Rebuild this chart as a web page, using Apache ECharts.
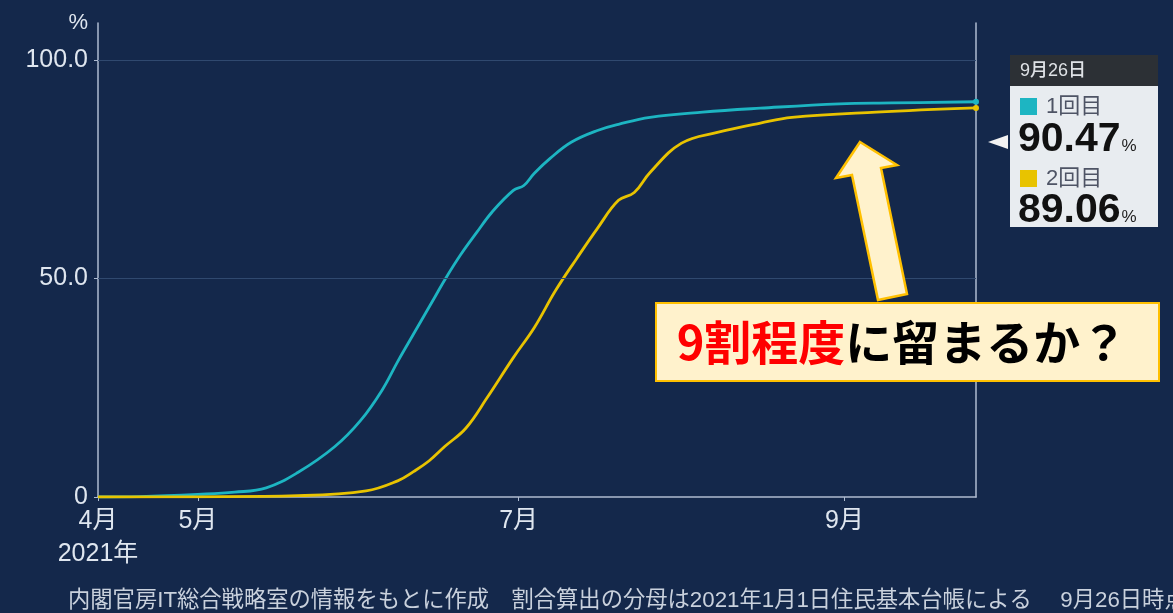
<!DOCTYPE html>
<html>
<head>
<meta charset="utf-8">
<script src="https://cdn.jsdelivr.net/npm/echarts@6.0.0/dist/echarts.min.js"></script>
<style>
html,body{margin:0;padding:0;background:#14284b;}
#chart{width:1173px;height:613px;}
</style>
</head>
<body>
<div id="chart"></div>
<script>
// ---- data ----
const seriesNames = ['1回目', '2回目'];
const dose1Dates = ['2021-04-12','2021-04-20','2021-05-01','2021-05-08','2021-05-14','2021-05-20','2021-05-27','2021-06-01','2021-06-05','2021-06-08','2021-06-10','2021-06-15','2021-06-17','2021-06-20','2021-06-23','2021-06-26','2021-06-30','2021-07-02','2021-07-04','2021-07-07','2021-07-11','2021-07-16','2021-07-20','2021-07-26','2021-08-05','2021-08-16','2021-08-31','2021-09-10','2021-09-26'];
const dose1Values = [0,0.1,0.6,1.1,2.1,5.6,11.5,17.6,24.4,31.0,35.2,45.6,49.8,55.5,60.5,65.3,70.2,71.3,74.1,77.5,81.2,83.9,85.3,86.9,88.1,89.0,90.0,90.2,90.47];
const dose2Dates = ['2021-04-12','2021-05-01','2021-05-20','2021-06-02','2021-06-08','2021-06-11','2021-06-14','2021-06-17','2021-06-21','2021-06-25','2021-06-30','2021-07-04','2021-07-08','2021-07-12','2021-07-16','2021-07-20','2021-07-23','2021-07-26','2021-08-01','2021-08-08','2021-08-16','2021-08-22','2021-09-07','2021-09-26'];
const dose2Values = [0,0.05,0.3,1.4,3.7,5.8,8.3,11.6,15.8,22.7,31.9,38.8,47.2,54.5,61.5,67.9,69.7,74.3,81.0,83.5,85.6,86.9,88.1,89.06];
const xTickDates = ['2021-04-12','2021-05-01','2021-07-01','2021-09-01'];
const xTickLabels = ['4月\n2021年','5月','7月','9月'];
const yTicks = [0, 50, 100];
const latestLabel = '9月26日';
const annotationRed = '9割程度';
const annotationBlack = 'に留まるか？';
const footerText = '内閣官房IT総合戦略室の情報をもとに作成　割合算出の分母は2021年1月1日住民基本台帳による　 9月26日時点';

const colors = ['#1db5c2', '#e8c300'];
const FONT = '"Liberation Sans", "Noto Sans CJK JP", sans-serif';
const JFONT = '"Noto Sans CJK JP", sans-serif';

const START = xTickDates[0];
function dayOf(s){
  const p = s.split('-').map(Number), q = START.split('-').map(Number);
  return Math.round((Date.UTC(p[0], p[1]-1, p[2]) - Date.UTC(q[0], q[1]-1, q[2])) / 86400000);
}
function pairs(d, v){ return d.map((x,i)=>[dayOf(x), v[i]]); }
const xTickDays = xTickDates.map(dayOf);

const chart = echarts.init(document.getElementById('chart'));
const lastIdx1 = dose1Values.length - 1, lastIdx2 = dose2Values.length - 1;

function lineSeries(name, dates, values, color){
  const data = pairs(dates, values);
  return {
    name, type: 'line', data, smooth: 0.4, symbol: 'none', z: 3,
    lineStyle: { color, width: 2.8 },
    itemStyle: { color },
    markPoint: {
      symbol: 'circle', symbolSize: 6, silent: true,
      itemStyle: { color },
      label: { show: false },
      data: [{ coord: data[data.length-1] }]
    }
  };
}

chart.setOption({
  backgroundColor: '#14284b',
  animation: false,
  grid: { left: 98, right: 197, top: 23, bottom: 116, containLabel: false },
  xAxis: {
    type: 'value',
    min: 0,
    max: dayOf(dose1Dates[lastIdx1]),
    axisLine: { show: true, onZero: false, lineStyle: { color: '#aebbd0', width: 1.5 } },
    axisTick: { show: true, length: 4, lineStyle: { color: '#aebbd0' }, customValues: xTickDays },
    axisLabel: {
      customValues: xTickDays,
      color: '#dfe6ef', fontSize: 25, fontFamily: FONT, lineHeight: 33, margin: 8,
      formatter: function(v){ const i = xTickDays.indexOf(Math.round(v)); return i >= 0 ? xTickLabels[i] : ''; }
    },
    splitLine: { show: false }
  },
  yAxis: [{
    type: 'value', min: 0, max: 108.5,
    name: '%', nameLocation: 'end', nameGap: 0,
    nameTextStyle: { color: '#dfe6ef', fontSize: 22, fontFamily: FONT, align: 'right', verticalAlign: 'middle', padding: [0, 10, 0, 0] },
    axisLine: { show: true, lineStyle: { color: '#aebbd0', width: 1.5 } },
    axisTick: { show: true, length: 4, lineStyle: { color: '#aebbd0' }, customValues: yTicks },
    axisLabel: {
      customValues: yTicks,
      color: '#dfe6ef', fontSize: 25, fontFamily: FONT, margin: 10,
      formatter: v => v === 0 ? '0' : v.toFixed(1)
    },
    splitLine: { show: false }
  }, {
    type: 'value', min: 0, max: 108.5, position: 'right',
    axisLine: { show: true, lineStyle: { color: '#aebbd0', width: 1.5 } },
    axisTick: { show: false }, axisLabel: { show: false }, splitLine: { show: false }
  }],
  series: [
    {
      type: 'line', data: [], silent: true,
      markLine: {
        symbol: 'none', silent: true, label: { show: false },
        lineStyle: { color: '#30496f', width: 1, type: 'solid' },
        data: [{ yAxis: 50 }, { yAxis: 100 }]
      }
    },
    lineSeries(seriesNames[0], dose1Dates, dose1Values, colors[0]),
    lineSeries(seriesNames[1], dose2Dates, dose2Values, colors[1])
  ],
  graphic: [
    { type: 'polygon', shape: { points: [[988,142],[1008,135],[1008,149]] }, style: { fill: '#f2f2f2' } },
    { type: 'rect', shape: { x: 1010, y: 55, width: 148, height: 31 }, style: { fill: '#2c3035' } },
    { type: 'rect', shape: { x: 1010, y: 86, width: 148, height: 141 }, style: { fill: '#e8ecf0' } },
    { type: 'text', x: 1020, y: 71, style: { text: latestLabel, fill: '#dfe2e6', font: '500 18px ' + FONT, verticalAlign: 'middle' } },
    { type: 'rect', shape: { x: 1020, y: 98, width: 17, height: 17 }, style: { fill: colors[0] } },
    { type: 'text', x: 1046, y: 107, style: { text: seriesNames[0], fill: '#4e5465', font: '22px ' + FONT, verticalAlign: 'middle' } },
    { type: 'text', x: 1018, y: 140, style: {
        text: '{b|' + dose1Values[lastIdx1].toFixed(2) + '}{s|%}', verticalAlign: 'middle',
        rich: { b: { fontSize: 41, fontWeight: 'bold', fontFamily: FONT, fill: '#111111' }, s: { fontSize: 17, fontFamily: FONT, fill: '#222222', padding: [12,0,0,1] } } } },
    { type: 'rect', shape: { x: 1020, y: 170, width: 17, height: 17 }, style: { fill: colors[1] } },
    { type: 'text', x: 1046, y: 179, style: { text: seriesNames[1], fill: '#4e5465', font: '22px ' + FONT, verticalAlign: 'middle' } },
    { type: 'text', x: 1018, y: 211, style: {
        text: '{b|' + dose2Values[lastIdx2].toFixed(2) + '}{s|%}', verticalAlign: 'middle',
        rich: { b: { fontSize: 41, fontWeight: 'bold', fontFamily: FONT, fill: '#111111' }, s: { fontSize: 17, fontFamily: FONT, fill: '#222222', padding: [12,0,0,1] } } } },
    { type: 'polygon', z: 10, shape: { points: [[860,142],[897,165],[881,168],[907,294],[878,300],[852,175],[836,178]] },
      style: { fill: '#fff2cc', stroke: '#ffc000', lineWidth: 2.5, lineJoin: 'miter' } },
    { type: 'rect', z: 10, shape: { x: 656, y: 303, width: 503, height: 78 }, style: { fill: '#fff2cc', stroke: '#ffc000', lineWidth: 2 } },
    { type: 'text', z: 11, x: 902, y: 342, style: {
        text: '{r|' + annotationRed + '}{k|' + annotationBlack + '}', align: 'center', verticalAlign: 'middle',
        rich: { r: { fontSize: 47, fontWeight: 'bold', fontFamily: JFONT, fill: '#ff0000' }, k: { fontSize: 47, fontWeight: 'bold', fontFamily: JFONT, fill: '#000000' } } } },
    { type: 'text', x: 68, y: 601, style: { text: footerText, fill: '#c9d1dd', font: '22.3px ' + FONT, verticalAlign: 'middle' } }
  ]
});
</script>
</body>
</html>
